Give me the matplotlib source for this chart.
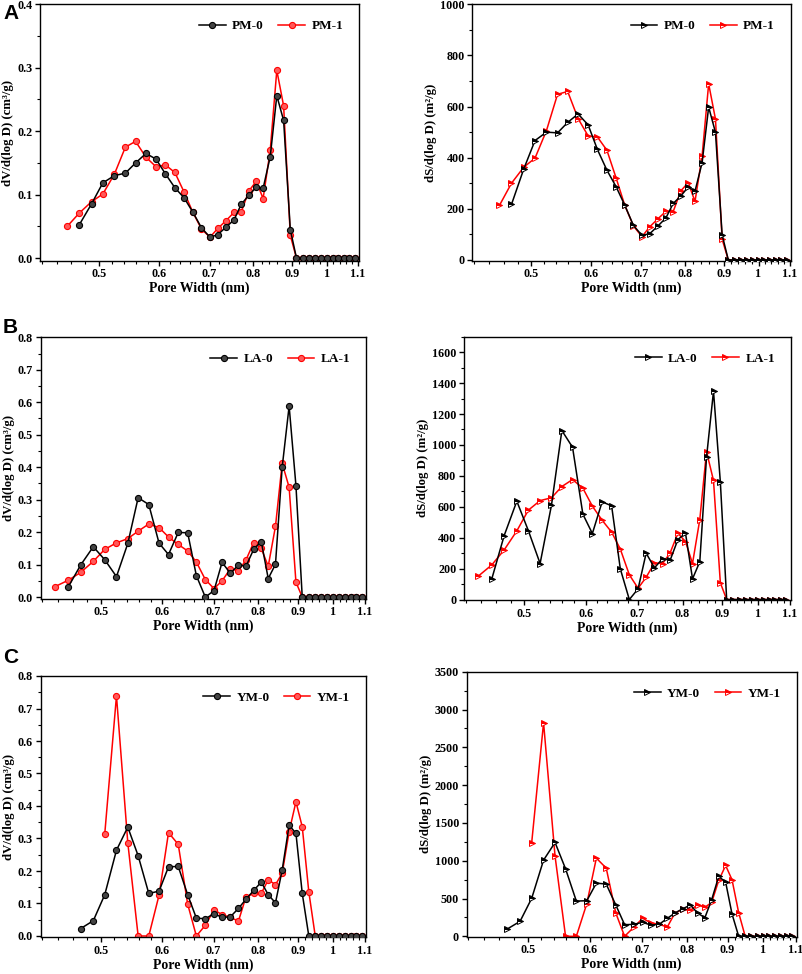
import matplotlib
matplotlib.use("Agg")
import matplotlib.pyplot as plt
from matplotlib.ticker import FixedLocator, NullFormatter, MultipleLocator, AutoMinorLocator

plt.rcParams['font.family'] = ['Liberation Serif', 'DejaVu Serif']
plt.rcParams['font.weight'] = 'bold'

# ---------------- data ----------------
pore_width = [0.436, 0.454, 0.471, 0.489, 0.506, 0.524, 0.542, 0.559, 0.577, 0.595,
              0.612, 0.630, 0.648, 0.665, 0.683, 0.701, 0.718, 0.736, 0.754, 0.771,
              0.789, 0.807, 0.824, 0.842, 0.859, 0.877, 0.895, 0.912, 0.930, 0.948,
              0.965, 0.983, 1.001, 1.018, 1.036, 1.054, 1.071, 1.089]

# Panel A (PM)
pm0_start = 2
pm0_v = [0.0525, 0.0856, 0.1186, 0.130, 0.134, 0.150, 0.165, 0.156, 0.133, 0.111,
         0.095, 0.073, 0.048, 0.033, 0.037, 0.049, 0.060, 0.085, 0.099, 0.112,
         0.110, 0.160, 0.256, 0.217, 0.045,
         0, 0, 0, 0, 0, 0, 0, 0, 0, 0, 0]
pm1_start = 1
pm1_v = [0.050, 0.071, 0.089, 0.101, 0.132, 0.175, 0.184, 0.159, 0.144, 0.147,
         0.135, 0.104, 0.073, 0.046, 0.033, 0.047, 0.059, 0.072, 0.073, 0.106,
         0.121, 0.094, 0.170, 0.296, 0.240, 0.036,
         0, 0, 0, 0, 0, 0, 0, 0, 0, 0, 0]
pm0_s = [217, 356, 467, 500, 497, 538, 571, 528, 432, 351,
         286, 215, 135, 96, 103, 133, 164, 221, 250, 285,
         269, 380, 598, 499, 98,
         0, 0, 0, 0, 0, 0, 0, 0, 0, 0, 0]
pm1_s = [213, 300, 363, 398, 506, 648, 659, 553, 485, 481,
         429, 320, 215, 133, 91, 130, 161, 190, 189, 270,
         302, 229, 406, 689, 551, 81,
         0, 0, 0, 0, 0, 0, 0, 0, 0, 0, 0]

# Panel B (LA)
la0_start = 1
la0_v = [0.032, 0.099, 0.155, 0.115, 0.063, 0.165, 0.306, 0.285, 0.166, 0.131,
         0.199, 0.198, 0.066, 0.000, 0.020, 0.107, 0.073, 0.099, 0.095, 0.147,
         0.171, 0.057, 0.101, 0.400, 0.588, 0.343,
         0, 0, 0, 0, 0, 0, 0, 0, 0, 0, 0]
la1_start = 0
la1_v = [0.032, 0.052, 0.076, 0.110, 0.147, 0.167, 0.180, 0.203, 0.225, 0.214,
         0.185, 0.162, 0.142, 0.108, 0.054, 0.026, 0.050, 0.087, 0.081, 0.114,
         0.168, 0.150, 0.095, 0.218, 0.412, 0.338, 0.046,
         0, 0, 0, 0, 0, 0, 0, 0, 0, 0, 0]
la0_s = [134, 414, 636, 446, 233, 610, 1093, 985, 552, 427,
         632, 606, 198, 0, 69, 300, 205, 265, 254, 388,
         429, 134, 244, 920, 1347, 761,
         0, 0, 0, 0, 0, 0, 0, 0, 0, 0, 0]
la1_s = [151, 224, 321, 444, 578, 640, 658, 731, 776, 720,
         604, 513, 436, 326, 160, 73, 144, 237, 233, 302,
         429, 375, 233, 517, 957, 770, 108,
         0, 0, 0, 0, 0, 0, 0, 0, 0, 0, 0]

# Panel C (YM)
ym0_start = 2
ym0_v = [0.023, 0.047, 0.127, 0.264, 0.335, 0.247, 0.131, 0.138, 0.213, 0.214,
         0.127, 0.055, 0.053, 0.069, 0.057, 0.059, 0.085, 0.113, 0.140, 0.166,
         0.127, 0.102, 0.203, 0.341, 0.316, 0.131, 0.000,
         0, 0, 0, 0, 0, 0, 0, 0, 0]
ym1_start = 4
ym1_v = [0.314, 0.739, 0.287, 0.000, 0.000, 0.126, 0.318, 0.282, 0.098, 0.000,
         0.033, 0.080, 0.066, 0.057, 0.046, 0.120, 0.131, 0.131, 0.173, 0.158,
         0.193, 0.321, 0.413, 0.336, 0.136, 0.000,
         0, 0, 0, 0, 0, 0, 0, 0]
ym0_s = [97, 198, 502, 1008, 1241, 893, 466, 471, 704, 691,
         414, 154, 158, 185, 150, 158, 238, 308, 365, 414,
         308, 246, 484, 792, 717, 295, 0,
         0, 0, 0, 0, 0, 0, 0, 0, 0]
ym1_s = [1236, 2825, 1060, 0, 0, 431, 1034, 902, 308, 0,
         119, 238, 180, 158, 123, 308, 356, 343, 418, 383,
         449, 739, 937, 748, 312, 0,
         0, 0, 0, 0, 0, 0, 0, 0]

x_major = [0.5, 0.6, 0.7, 0.8, 0.9, 1.0, 1.1]
x_major_labels = ['0.5', '0.6', '0.7', '0.8', '0.9', '1', '1.1']
x_minor = [0.42, 0.44, 0.46, 0.48, 0.52, 0.54, 0.56, 0.58, 0.62, 0.64, 0.66, 0.68,
           0.72, 0.74, 0.76, 0.78, 0.82, 0.84, 0.86, 0.88, 0.92, 0.94, 0.96, 0.98,
           1.02, 1.04, 1.06, 1.08]

# ---------------- figure ----------------
W, H = 803, 974
fig = plt.figure(figsize=(W / 100, H / 100), dpi=100)


def add_ax(l, t, r, b):
    return fig.add_axes([l / W, 1 - b / H, (r - l) / W, (b - t) / H])


RED = '#ff0000'


def style(ax, ylim, ystep, ylabel, yfmt):
    ax.set_xscale('log')
    ax.set_xlim(0.418, 1.103)
    ax.set_ylim(*ylim)
    ax.xaxis.set_major_locator(FixedLocator(x_major))
    ax.set_xticklabels(x_major_labels)
    ax.xaxis.set_minor_locator(FixedLocator(x_minor))
    ax.xaxis.set_minor_formatter(NullFormatter())
    ax.yaxis.set_major_locator(MultipleLocator(ystep))
    ax.yaxis.set_minor_locator(AutoMinorLocator(2))
    ax.yaxis.set_major_formatter(plt.FuncFormatter(lambda v, p: yfmt.format(v)))
    ax.tick_params(which='major', direction='out', length=3.5, width=1.0,
                   labelsize=8.7, top=False, right=False, pad=2)
    ax.tick_params(which='minor', direction='out', length=2, width=0.8,
                   top=False, right=False)
    for lab in ax.get_xticklabels() + ax.get_yticklabels():
        lab.set_fontweight('bold')
    for sp in ax.spines.values():
        sp.set_linewidth(1.0)
    ax.set_xlabel('Pore Width (nm)', fontsize=10, fontweight='bold', labelpad=1)
    ax.set_ylabel(ylabel, fontsize=9.2, fontweight='bold', labelpad=2)


LEG = dict(loc='upper right', ncol=2, frameon=False,
           prop={'weight': 'bold', 'size': 9.5}, handlelength=2.0,
           columnspacing=1.1, borderaxespad=0.8, handletextpad=0.5)


def plot_v(ax, xs0, ys0, xs1, ys1, names):
    ax.plot(xs0, ys0, '-', color='black', lw=1.1, marker='o', ms=4.4,
            mfc='#444444', mec='black', mew=0.8, label=names[0], zorder=3)
    ax.plot(xs1, ys1, '-', color=RED, lw=1.1, marker='o', ms=4.4,
            mfc='#ff5a5a', mec=RED, mew=0.8, label=names[1], zorder=2)
    ax.legend(**LEG)


def plot_s(ax, xs0, ys0, xs1, ys1, names):
    ax.plot(xs0, ys0, '-', color='black', lw=1.1, marker='>', ms=5,
            fillstyle='top', mfc='black', markerfacecoloralt='white',
            mec='black', mew=0.7, label=names[0], zorder=3)
    ax.plot(xs1, ys1, '-', color=RED, lw=1.1, marker='>', ms=5,
            fillstyle='top', mfc=RED, markerfacecoloralt='white',
            mec=RED, mew=0.7, label=names[1], zorder=2)
    ax.legend(**LEG)


VLAB = 'dV/d(log D) (cm³/g)'
SLAB = 'dS/d(log D) (m²/g)'

# Panel A
axA1 = add_ax(40, 4.3, 359, 260.7)
plot_v(axA1, pore_width[pm0_start:], pm0_v, pore_width[pm1_start:], pm1_v, ['PM-0', 'PM-1'])
style(axA1, (-0.004, 0.4), 0.1, VLAB, '{:.1f}')
axA2 = add_ax(472.3, 4.3, 790.7, 260.7)
plot_s(axA2, pore_width[pm0_start:], pm0_s, pore_width[pm1_start:], pm1_s, ['PM-0', 'PM-1'])
style(axA2, (-3, 1000), 200, SLAB, '{:.0f}')

# Panel B
axB1 = add_ax(40.7, 337.3, 366, 598.7)
plot_v(axB1, pore_width[la0_start:], la0_v, pore_width[la1_start:], la1_v, ['LA-0', 'LA-1'])
style(axB1, (-0.005, 0.8), 0.1, VLAB, '{:.1f}')
axB2 = add_ax(464, 336.7, 790.7, 600)
plot_s(axB2, pore_width[la0_start:], la0_s, pore_width[la1_start:], la1_s, ['LA-0', 'LA-1'])
style(axB2, (-3, 1700), 200, SLAB, '{:.0f}')

# Panel C
axC1 = add_ax(40.7, 676, 366, 937.3)
plot_v(axC1, pore_width[ym0_start:], ym0_v, pore_width[ym1_start:], ym1_v, ['YM-0', 'YM-1'])
style(axC1, (-0.004, 0.8), 0.1, VLAB, '{:.1f}')
axC2 = add_ax(466.7, 671.7, 796.7, 936.7)
plot_s(axC2, pore_width[ym0_start:], ym0_s, pore_width[ym1_start:], ym1_s, ['YM-0', 'YM-1'])
style(axC2, (-5, 3500), 500, SLAB, '{:.0f}')

# Panel letters
for letter, ypix in [('A', 4), ('B', 318), ('C', 648)]:
    fig.text(3 / W, 1 - ypix / H, letter, family=['Liberation Sans', 'DejaVu Sans'],
             fontsize=15, fontweight='bold', ha='left', va='top')

fig.savefig('out.png', dpi=100)
